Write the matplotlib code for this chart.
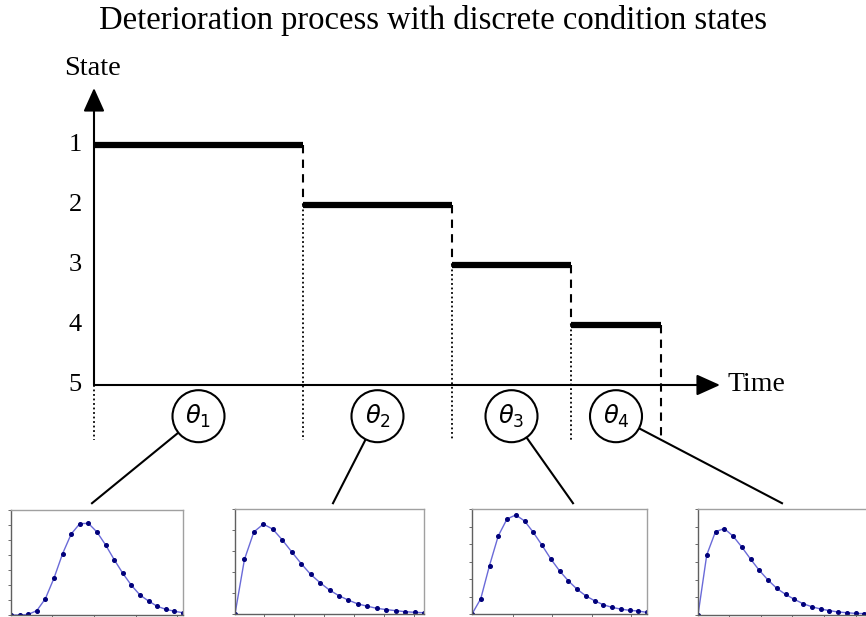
import matplotlib
matplotlib.use("Agg")
import matplotlib.pyplot as plt
from matplotlib.patches import Ellipse

plt.rcParams['font.family'] = ['Liberation Serif', 'DejaVu Serif']
plt.rcParams['mathtext.fontset'] = 'dejavusans'

# Datos del diagrama principal
change_times = [0, 2.09, 3.58, 4.77, 5.67]   # instantes de cambio de estado
states = [1, 2, 3, 4]                        # estado en cada tramo
state_ticks = [1, 2, 3, 4, 5]
theta_labels = [r'$\theta_1$', r'$\theta_2$', r'$\theta_3$', r'$\theta_4$']
time_end = 6.26
below_axis = 5.92      # hasta donde bajan las lineas punteadas
circle_level = 5.52
leader_x = [-0.02, 2.39, 4.79, 6.88]   # punto de union con cada grafico pequeño
leader_y = 6.97

# Distribuciones de tiempo de permanencia (una por estado)
pdf_1 = [0, 0, 0.04, 0.29, 1.09, 2.46, 4.09, 5.40, 6.09, 6.11, 5.53, 4.67,
         3.69, 2.78, 1.98, 1.33, 0.93, 0.58, 0.38, 0.25, 0.15]
pdf_2 = [0, 2.60, 3.91, 4.28, 4.04, 3.53, 2.96, 2.40, 1.89, 1.49, 1.14, 0.87,
         0.66, 0.48, 0.37, 0.27, 0.21, 0.16, 0.11, 0.08, 0.06]
pdf_3 = [0, 0.87, 2.77, 4.46, 5.43, 5.66, 5.32, 4.67, 3.93, 3.15, 2.47, 1.90,
         1.42, 1.04, 0.76, 0.53, 0.38, 0.28, 0.21, 0.17, 0.09]
pdf_4 = [0, 3.40, 4.72, 4.89, 4.47, 3.85, 3.17, 2.53, 1.98, 1.51, 1.17, 0.89,
         0.64, 0.47, 0.34, 0.25, 0.17, 0.13, 0.09, 0.08, 0.06]
pdfs = [pdf_1, pdf_2, pdf_3, pdf_4]
pdf_ymax = [7, 5, 6, 6]
pdf_xticks = [[4.75, 9.7, 14.5, 19.3],
              [3.12, 6.28, 9.43, 12.59, 15.74, 18.9],
              [4.63, 9.18, 13.69, 18.2],
              [3.49, 7.22, 10.7, 14.4, 18.0]]

W, H = 866, 617
fig = plt.figure(figsize=(W / 100, H / 100), dpi=100)

# Ejes principales ocupando toda la figura (escala: 100 px por unidad de tiempo, 60 px por estado)
ax = fig.add_axes([0, 0, 1, 1])
ax.set_xlim(-0.94, 7.72)
ax.set_ylim(5 + 232 / 60, 5 - 385 / 60)
ax.axis('off')

arrow = dict(arrowstyle='-|>,head_length=1.0,head_width=0.45', mutation_scale=14.4,
             lw=1.5, color='black', shrinkA=0, shrinkB=0)
ax.annotate('', xy=(time_end, 5), xytext=(0, 5), arrowprops=arrow)
ax.annotate('', xy=(0, 0.05), xytext=(0, 5), arrowprops=arrow)

# Tramos de estado
ax.hlines(states, change_times[:-1], change_times[1:], colors='black', lw=4.5,
          capstyle='butt', zorder=3)

# Lineas verticales
for i, s in enumerate(states):
    t = change_times[i + 1]
    bottom = below_axis if i == len(states) - 1 else s + 1
    ax.vlines(t, s, bottom, colors='black', lw=1.5, linestyles=(0, (4, 3)))
for i in range(len(states)):
    t = change_times[i]
    top = 5 if i == 0 else states[i]
    ax.vlines(t, top, below_axis, colors='black', lw=1.3, linestyles=(0, (1, 1.5)))

for s in state_ticks:
    ax.text(-0.19, s, str(s), ha='center', va='center', fontsize=19)
ax.text(-0.02, -0.28, 'State', ha='center', va='center', fontsize=20.5)
ax.text(6.33, 5, 'Time', ha='left', va='center', fontsize=20)

# Circulos con los parametros
for i, lab in enumerate(theta_labels):
    cx = (change_times[i] + change_times[i + 1]) / 2
    ax.plot([cx, leader_x[i]], [circle_level, leader_y], color='black', lw=1.5, zorder=2)
    ax.add_patch(Ellipse((cx, circle_level), 0.52, 52 / 60, facecolor='white',
                         edgecolor='black', lw=1.5, zorder=4))
    ax.text(cx, circle_level, lab, ha='center', va='center', fontsize=17.5, zorder=5)

fig.text(0.5, 1 - 20 / H, 'Deterioration process with discrete condition states',
         ha='center', va='center', fontsize=23.5)

# Graficos pequeños de las distribuciones
boxes = [(11, 183, 510, 615), (235, 424, 509, 614), (472, 647, 509, 614), (698, 873, 509, 615)]
for i, (l, r, t, b) in enumerate(boxes):
    sub = fig.add_axes([l / W, (H - b) / H, (r - l) / W, (b - t) / H])
    x = list(range(len(pdfs[i])))
    sub.plot(x, pdfs[i], color='#6a6ad8', lw=1.0, marker='o', markersize=2.6,
             markerfacecolor='#00007a', markeredgecolor='#00007a')
    sub.set_xlim(0, 20)
    sub.set_ylim(0, pdf_ymax[i])
    sub.set_xticks(pdf_xticks[i])
    sub.set_yticks(range(pdf_ymax[i] + 1))
    sub.tick_params(length=2, width=0.6, color='#555555', labelbottom=False, labelleft=False)
    for sp in sub.spines.values():
        sp.set_color('#a0a0a0')
        sp.set_linewidth(1.0)
    sub.spines['left'].set_color('#606060')
    sub.spines['bottom'].set_color('#606060')

fig.savefig('out.png', dpi=100)
